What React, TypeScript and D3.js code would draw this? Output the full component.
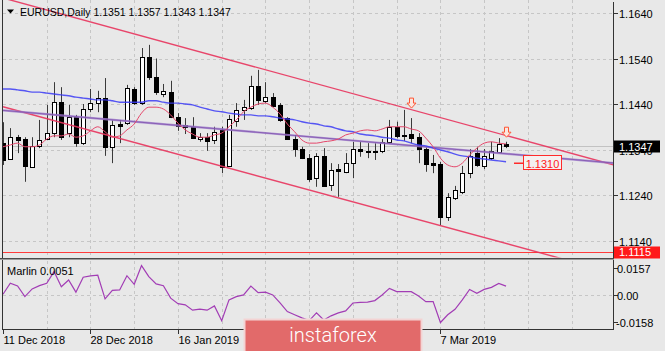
import React, { useRef, useEffect } from "react";
import * as d3 from "d3";

// daily bars, 11 Dec 2018 .. 20 Mar 2019
const opens = [
  1.1354, 1.1319, 1.1367, 1.1363, 1.1302, 1.1348, 1.1363, 1.1376, 1.1444, 1.1376,
  1.1411, 1.1354, 1.1429, 1.1442, 1.1453, 1.1346, 1.1396, 1.1398, 1.1473, 1.1442,
  1.1543, 1.1499, 1.1462, 1.1466, 1.1411, 1.1394, 1.139, 1.1363, 1.1367, 1.1361,
  1.1383, 1.1304, 1.1403, 1.1427, 1.1432, 1.148, 1.1447, 1.1455, 1.1438, 1.1409,
  1.1363, 1.1341, 1.1321, 1.1277, 1.1326, 1.1262, 1.1297, 1.1291, 1.131, 1.1341,
  1.1337, 1.1337, 1.1337, 1.1357, 1.139, 1.1372, 1.1374, 1.1367, 1.1341, 1.131,
  1.1308, 1.1192, 1.1233, 1.1247, 1.1288, 1.1332, 1.1304, 1.1321, 1.1335, 1.1351,
];
const highs = [
  1.14, 1.1387, 1.1372, 1.1367, 1.1367, 1.1405, 1.1438, 1.1488, 1.1477, 1.1438,
  1.1416, 1.144, 1.1473, 1.1469, 1.1497, 1.1405, 1.1405, 1.1482, 1.1477, 1.1563,
  1.157, 1.154, 1.1484, 1.1491, 1.142, 1.1409, 1.1411, 1.1376, 1.1376, 1.139,
  1.139, 1.1416, 1.1442, 1.1449, 1.1502, 1.1515, 1.1488, 1.1464, 1.1442, 1.1411,
  1.1372, 1.1346, 1.133, 1.1332, 1.1343, 1.131, 1.1308, 1.1332, 1.1357, 1.1357,
  1.1354, 1.1354, 1.1363, 1.1405, 1.1401, 1.1427, 1.1409, 1.1376, 1.1346, 1.1328,
  1.1313, 1.1244, 1.126, 1.1304, 1.1341, 1.1346, 1.1341, 1.1357, 1.1365, 1.1357,
];
const lows = [
  1.1306, 1.1317, 1.1332, 1.1269, 1.1302, 1.1343, 1.1361, 1.1367, 1.1361, 1.1367,
  1.1346, 1.135, 1.1422, 1.1422, 1.1326, 1.131, 1.1354, 1.1394, 1.1438, 1.1438,
  1.1493, 1.146, 1.1455, 1.1409, 1.1381, 1.1374, 1.1363, 1.1357, 1.1337, 1.1352,
  1.1288, 1.1302, 1.139, 1.1405, 1.1427, 1.1438, 1.1442, 1.1433, 1.1401, 1.1361,
  1.1324, 1.1319, 1.1269, 1.1258, 1.1258, 1.1249, 1.1236, 1.1288, 1.1277, 1.1324,
  1.1321, 1.1317, 1.1332, 1.1354, 1.1365, 1.1359, 1.1354, 1.131, 1.1291, 1.1288,
  1.1174, 1.1183, 1.1229, 1.1242, 1.1277, 1.1302, 1.1297, 1.1317, 1.1332, 1.1343,
];
const closes = [
  1.1317, 1.1367, 1.1361, 1.1304, 1.1348, 1.1361, 1.1376, 1.1444, 1.1367, 1.1411,
  1.1354, 1.1429, 1.1442, 1.1453, 1.1346, 1.1394, 1.1392, 1.1475, 1.1442, 1.1543,
  1.1499, 1.1466, 1.1469, 1.1411, 1.1392, 1.139, 1.1365, 1.1367, 1.1359, 1.1379,
  1.1302, 1.1407, 1.1427, 1.1433, 1.148, 1.1449, 1.1455, 1.1436, 1.1405, 1.1363,
  1.1341, 1.1321, 1.1275, 1.1326, 1.126, 1.1295, 1.1293, 1.131, 1.1341, 1.1337,
  1.1335, 1.1335, 1.1357, 1.139, 1.137, 1.137, 1.1365, 1.1341, 1.1308, 1.1306,
  1.1192, 1.1236, 1.1251, 1.1288, 1.1326, 1.1306, 1.1326, 1.1337, 1.1352, 1.1347,
];

// thin red average
const maFast = [
  1.1346, 1.135, 1.1354, 1.1346, 1.1346, 1.135, 1.1363, 1.137, 1.137, 1.1374,
  1.1367, 1.137, 1.1381, 1.139, 1.1379, 1.1367, 1.137, 1.1383, 1.1396, 1.142,
  1.1433, 1.1433, 1.1429, 1.1416, 1.1398, 1.1383, 1.1374, 1.1367, 1.1367, 1.1372,
  1.1376, 1.139, 1.1405, 1.1423, 1.1433, 1.144, 1.1442, 1.1433, 1.1418, 1.1396,
  1.1379, 1.1361, 1.1354, 1.1354, 1.1357, 1.1359, 1.1363, 1.1372, 1.1376, 1.1381,
  1.1383, 1.1381, 1.1385, 1.139, 1.139, 1.139, 1.1385, 1.1381, 1.1365, 1.1346,
  1.1321, 1.1306, 1.1302, 1.131, 1.1328, 1.1343, 1.1354, 1.1357, 1.1354, 1.1352,
];
// blue average
const maSlow = [
  1.1473, 1.1473, 1.1471, 1.1469, 1.1466, 1.1466, 1.1464, 1.1462, 1.146, 1.1458,
  1.1455, 1.1453, 1.1451, 1.1449, 1.1449, 1.1447, 1.1444, 1.1444, 1.1444, 1.1444,
  1.1447, 1.1447, 1.1444, 1.1442, 1.1442, 1.144, 1.1438, 1.1433, 1.1429, 1.1425,
  1.1423, 1.142, 1.1418, 1.1416, 1.1416, 1.1414, 1.1414, 1.1412, 1.1409, 1.1407,
  1.1405, 1.1401, 1.1398, 1.1396, 1.1392, 1.139, 1.1385, 1.1381, 1.1379, 1.1374,
  1.1372, 1.137, 1.1367, 1.1365, 1.1361, 1.1359, 1.1354, 1.135, 1.1348, 1.1343,
  1.1339, 1.1335, 1.133, 1.1326, 1.1324, 1.1321, 1.1319, 1.1317, 1.1315, 1.1313,
];
// Marlin oscillator
const marlin = [
  0.0004, 0.0068, 0.0052, -0.001, 0.0035, 0.0054, 0.0068, 0.0136, 0.0048, 0.0087,
  0.0016, 0.0103, 0.0111, 0.0115, -0.0023, 0.0027, 0.0029, 0.0112, 0.0062, 0.0171,
  0.0107, 0.0064, 0.0054, -0.0019, -0.0051, -0.0058, -0.0089, -0.0083, -0.0089, -0.0064,
  -0.0151, -0.0029, -0.001, 0.0, 0.0052, 0.0013, 0.0016, 0.0, -0.0047, -0.0097,
  -0.0116, -0.0134, -0.015, -0.0105, -0.0146, -0.0122, -0.0105, -0.0093, -0.0047, -0.0044,
  -0.0042, -0.0033, 0.0, 0.0038, 0.0019, 0.0019, 0.0019, -0.0006, -0.0039, -0.0039,
  -0.0161, -0.0116, -0.0084, -0.0029, 0.0032, 0.001, 0.0032, 0.0044, 0.0067, 0.0051,
];

// drawn objects: [barIndex, price]
const channelTop = [[0, 1.1673], [84, 1.1305]];
const channelBottom = [[0, 1.1434], [84, 1.1068]];
const trendLine = [[0, 1.1426], [84, 1.131]];
const arrows = [[56, 1.1431], [69, 1.1367]];
const supportLevel = 1.1115;
const targetLevel = 1.131;
const lastPrice = 1.1347;

const dateTickIdx = [0, 12, 24, 36, 48, 60];
const dateTickLabels = ["11 Dec 2018", "28 Dec 2018", "16 Jan 2019", "1 Feb 2019", "19 Feb 2019", "7 Mar 2019"];
const priceTicks = [1.164, 1.154, 1.144, 1.134, 1.124, 1.114];
const marlinTicks = [0.0157, 0, -0.0158];
const marlinTickLabels = ["0.0157", "0.00", "-0.0158"];

const FONT = "'Liberation Sans', Arial, sans-serif";

const App = () => {
  const svgRef = useRef(null);

  useEffect(() => {
    document.body.style.margin = "0";
    const svg = d3.select(svgRef.current);
    svg.selectAll("*").remove();

    const right = 613.5;
    const mainBottom = 257.5;
    const subTop = 260.5;
    const subBottom = 329.5;

    const x = d3.scaleLinear().domain([0, 84]).range([3, 615.4]);
    const y = d3.scaleLinear().domain([1.114, 1.164]).range([240.5, 13]);
    const ym = d3.scaleLinear().domain([-0.0158, 0.0157]).range([322, 268]);

    svg.append("rect").attr("width", 665).attr("height", 351).attr("fill", "#e8e8e8");

    const defs = svg.append("defs");
    defs.append("clipPath").attr("id", "clipMain")
      .append("rect").attr("x", 2.5).attr("y", 0).attr("width", right - 2.5).attr("height", mainBottom);
    defs.append("clipPath").attr("id", "clipSub")
      .append("rect").attr("x", 2.5).attr("y", subTop).attr("width", right - 2.5).attr("height", subBottom - subTop);

    // grid
    const grid = svg.append("g").attr("stroke", "#c6c6c6").attr("stroke-dasharray", "3,3").attr("shape-rendering", "crispEdges");
    priceTicks.forEach((p) => {
      grid.append("line").attr("x1", 3).attr("x2", right).attr("y1", Math.round(y(p)) + 0.5).attr("y2", Math.round(y(p)) + 0.5);
    });
    grid.append("line").attr("x1", 3).attr("x2", right).attr("y1", Math.round(ym(0)) + 0.5).attr("y2", Math.round(ym(0)) + 0.5);
    d3.range(6, 84, 6).forEach((i) => {
      const gx = Math.round(x(i)) + 0.5;
      grid.append("line").attr("x1", gx).attr("x2", gx).attr("y1", 0).attr("y2", mainBottom);
      grid.append("line").attr("x1", gx).attr("x2", gx).attr("y1", subTop).attr("y2", subBottom);
    });

    const main = svg.append("g").attr("clip-path", "url(#clipMain)");

    // current price + support level
    main.append("line").attr("x1", 0).attr("x2", right).attr("y1", Math.round(y(lastPrice)) + 0.5).attr("y2", Math.round(y(lastPrice)) + 0.5)
      .attr("stroke", "#c2c2c2").attr("shape-rendering", "crispEdges");
    main.append("line").attr("x1", 0).attr("x2", right).attr("y1", Math.round(y(supportLevel)) + 0.5).attr("y2", Math.round(y(supportLevel)) + 0.5)
      .attr("stroke", "#ff3b3b").attr("shape-rendering", "crispEdges");

    const seg = d3.line().x((d) => x(d[0])).y((d) => y(d[1]));

    // candles
    const candles = main.append("g");
    opens.forEach((o, i) => {
      const cx = Math.round(x(i));
      const c = closes[i];
      candles.append("line")
        .attr("x1", cx + 0.5).attr("x2", cx + 0.5)
        .attr("y1", y(highs[i])).attr("y2", y(lows[i]))
        .attr("stroke", "#3a3a3a").attr("stroke-width", 1);
      const top = Math.round(y(Math.max(o, c)));
      const bot = Math.round(y(Math.min(o, c)));
      candles.append("rect")
        .attr("x", cx - 1.5).attr("y", top + 0.5)
        .attr("width", 4).attr("height", Math.max(bot - top, 0))
        .attr("fill", c >= o ? "#ffffff" : "#000000")
        .attr("stroke", "#000").attr("stroke-width", 1)
        .attr("shape-rendering", "crispEdges");
    });

    // channel and trend lines
    main.append("path").attr("d", seg(channelTop)).attr("fill", "none").attr("stroke", "#e8335c").attr("stroke-width", 1.4).attr("opacity", 0.9);
    main.append("path").attr("d", seg(channelBottom)).attr("fill", "none").attr("stroke", "#e8335c").attr("stroke-width", 1.4).attr("opacity", 0.9);
    main.append("path").attr("d", seg(trendLine)).attr("fill", "none").attr("stroke", "#a283cf").attr("stroke-width", 2.2).attr("opacity", 0.85);
    main.append("path").attr("d", seg(trendLine)).attr("fill", "none").attr("stroke", "#5b1d8c").attr("stroke-width", 0.8).attr("opacity", 0.55);

    // averages
    const line = d3.line().x((d, i) => x(i)).y((d) => y(d)).curve(d3.curveMonotoneX);
    main.append("path").attr("d", line(maSlow)).attr("fill", "none").attr("stroke", "#3b3bf5").attr("stroke-width", 1.4).attr("opacity", 0.85);
    main.append("path").attr("d", line(maFast)).attr("fill", "none").attr("stroke", "#e5476b").attr("stroke-width", 1);

    // arrows
    arrows.forEach(([i, p]) => {
      main.append("path")
        .attr("d", "M-2,-10 L2,-10 L2,-5 L4.5,-5 L0,0 L-4.5,-5 L-2,-5 Z")
        .attr("transform", `translate(${Math.round(x(i)) + 0.5},${y(p)})`)
        .attr("fill", "#fbe6df").attr("stroke", "#ff5533").attr("stroke-width", 1);
    });

    // 1.1310 target label
    const ty = y(targetLevel);
    main.append("line").attr("x1", 514).attr("x2", 523).attr("y1", ty).attr("y2", ty).attr("stroke", "#ff2a2a").attr("stroke-width", 1.5);
    main.append("rect").attr("x", 523.5).attr("y", Math.round(ty) - 7.5).attr("width", 38).attr("height", 14)
      .attr("fill", "#f4f0f0").attr("stroke", "#ff2a2a");
    main.append("text").attr("x", 542.5).attr("y", ty + 0.5).attr("text-anchor", "middle").attr("dominant-baseline", "central")
      .attr("font-family", FONT).attr("font-size", 11).attr("fill", "#ff2020").text(targetLevel.toFixed(4));

    // title
    svg.append("path").attr("d", "M7,9.5 L14,9.5 L10.5,13.5 Z").attr("fill", "#000");
    svg.append("text").attr("x", 20).attr("y", 16).attr("font-family", FONT).attr("font-size", 10.5).attr("fill", "#000")
      .text(`EURUSD,Daily  ${opens[69].toFixed(4)} ${highs[69].toFixed(4)} ${lows[69].toFixed(4)} ${closes[69].toFixed(4)}`);

    // Marlin panel
    const sub = svg.append("g").attr("clip-path", "url(#clipSub)");
    const mline = d3.line().x((d, i) => x(i)).y((d) => ym(d));
    sub.append("path").attr("d", mline(marlin)).attr("fill", "none").attr("stroke", "#a23db5").attr("stroke-width", 1.2);
    svg.append("text").attr("x", 7).attr("y", 275).attr("font-family", FONT).attr("font-size", 11).attr("fill", "#000")
      .text(`Marlin ${marlin[69].toFixed(4)}`);

    // frame
    const frame = svg.append("g").attr("shape-rendering", "crispEdges");
    frame.append("line").attr("x1", 2.5).attr("x2", 2.5).attr("y1", 0).attr("y2", subBottom).attr("stroke", "#333");
    frame.append("line").attr("x1", right).attr("x2", right).attr("y1", 2).attr("y2", subBottom).attr("stroke", "#333");
    frame.append("line").attr("x1", 0).attr("x2", right).attr("y1", 258.5).attr("y2", 258.5).attr("stroke", "#4a4a4a");
    frame.append("line").attr("x1", 0).attr("x2", right).attr("y1", 259.5).attr("y2", 259.5).attr("stroke", "#9c9c9c");
    frame.append("line").attr("x1", 2.5).attr("x2", right).attr("y1", subBottom).attr("y2", subBottom).attr("stroke", "#333");

    // price axis
    const axis = svg.append("g").attr("font-family", FONT).attr("font-size", 11).attr("fill", "#000");
    priceTicks.forEach((p) => {
      const py = Math.round(y(p)) + 0.5;
      frame.append("line").attr("x1", right).attr("x2", right + 4).attr("y1", py).attr("y2", py).attr("stroke", "#333");
      axis.append("text").attr("x", 619).attr("y", py).attr("dominant-baseline", "central").text(p.toFixed(4));
    });
    marlinTicks.forEach((v, k) => {
      const py = Math.round(ym(v)) + 0.5;
      frame.append("line").attr("x1", right).attr("x2", right + 4).attr("y1", py).attr("y2", py).attr("stroke", "#333");
      axis.append("text").attr("x", v < 0 ? 616 : 617).attr("y", py).attr("dominant-baseline", "central").text(marlinTickLabels[k]);
    });

    // price tags
    const tag = (p, bg) => {
      const py = y(p);
      svg.append("rect").attr("x", 614).attr("y", Math.round(py) - 5.5).attr("width", 46).attr("height", 12).attr("fill", bg);
      svg.append("text").attr("x", 619).attr("y", py + 0.5).attr("dominant-baseline", "central")
        .attr("font-family", FONT).attr("font-size", 11).attr("fill", "#fff").text(p.toFixed(4));
    };
    tag(lastPrice, "#000");
    tag(supportLevel, "#ff1a1a");

    // date axis
    dateTickIdx.forEach((i, k) => {
      const tx = Math.round(x(i)) + 0.5;
      frame.append("line").attr("x1", tx).attr("x2", tx).attr("y1", subBottom).attr("y2", subBottom + 4).attr("stroke", "#333");
      axis.append("text").attr("x", tx).attr("y", 344).text(dateTickLabels[k]);
    });

    // watermark
    svg.append("rect").attr("x", 244.5).attr("y", 319.5).attr("width", 177).attr("height", 36)
      .attr("fill", "#e26a6a").attr("stroke", "#f3d3d3").attr("stroke-width", 2);
    svg.append("text").attr("x", 333).attr("y", 342).attr("text-anchor", "middle")
      .attr("font-family", "Roboto, 'Open Sans', sans-serif").attr("font-weight", 300).attr("font-size", 20)
      .attr("fill", "#ffffff").text("instaforex");
  }, []);

  return <svg ref={svgRef} width={665} height={351} style={{ display: "block" }}></svg>;
};

export default App;
